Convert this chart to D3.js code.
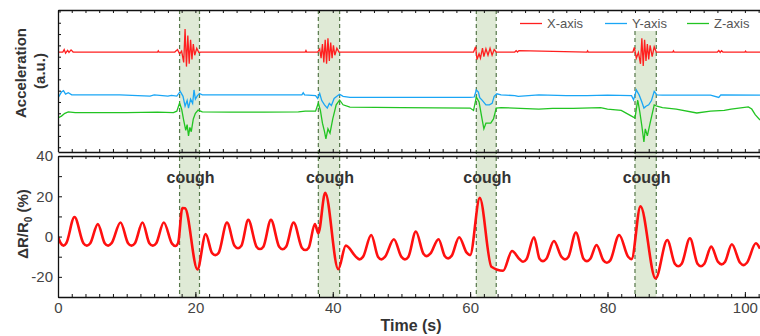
<!DOCTYPE html>
<html>
<head>
<meta charset="utf-8">
<script src="https://cdn.jsdelivr.net/npm/d3@7"></script>
<style>
  body { margin: 0; background: #fff; }
  svg { display: block; font-family: "Liberation Sans", Arial, sans-serif; }
</style>
</head>
<body>
<svg id="chart" width="760" height="336"></svg>
<script>
// cough windows (s)
const coughStart = [17.7, 37.9, 60.9, 84.0];
const coughEnd   = [20.6, 41.0, 63.8, 87.1];

// resistance signal ΔR/R0 (%)
const respT = [0, 0.4, 0.8, 1.2, 2.4, 3.7, 4.2, 4.7, 5.8, 6.8, 7.3, 7.8, 9.1, 10.2, 10.7, 11.2, 12.3, 13.3, 13.8, 14.3,
  15.4, 16.6, 17.1, 17.5, 18.1, 18.5, 20.3, 21.5, 22.4, 22.9, 23.4, 24.6, 25.7, 26.2, 26.7, 27.7, 28.9, 29.4, 29.9,
  31.0, 32.2, 32.7, 33.2, 34.3, 35.5, 36.0, 36.5, 37.4, 37.9, 38.9, 40.8, 41.9, 43.4, 43.9, 44.4, 45.6, 46.6, 47.1, 47.6,
  48.9, 50.0, 50.5, 51.0, 52.1, 53.2, 53.7, 54.2, 55.4, 56.3, 56.8, 57.3, 58.4, 59.5, 60.0, 61.4, 63.1, 64.8, 66.1,
  67.2, 67.7, 68.2, 69.3, 70.1, 70.6, 71.1, 72.2, 73.3, 73.8, 74.3, 75.4, 76.5, 77.0, 77.5, 78.4, 79.4, 79.9, 80.4,
  81.7, 83.0, 83.5, 84.8, 87.0, 88.7, 89.8, 90.3, 90.8, 92.0, 93.1, 93.6, 94.1, 95.1, 96.1, 96.6, 97.1,
  98.1, 99.3, 99.8, 100.3, 101.6, 102.2];
const respV = [0, -3.3, -4.5, -3.3, 9.7, -3.3, -4.5, -3.3, 6.2, -3.3, -4.5, -3.3, 7, -3.3, -4.5, -3.3, 7, -3.3, -4.5, -3.3,
  7, -3.5, -4.7, -3.0, 14.2, 14, -16.3, 1.2, -8.0, -9.2, -8.0, 7, -4.6, -5.8, -4.6, 8.3, -5.0, -6.2, -5.0,
  8.3, -5.1, -6.3, -5.1, 7, -5.5, -6.7, -5.5, 6.2, 1.7, 21.7, -16.2, -4.5, -10.1, -11.3, -10.1, 0.8, -10.1, -11.3, -10.1,
  -1.3, -10.1, -11.3, -10.1, 2.5, -8.5, -9.7, -8.5, -1.3, -9.6, -10.8, -9.6, -0.3, -8.0, -9.2, 19.2, -15, -17, -7.2,
  -11.3, -12.5, -11.3, -0.3, -11.0, -12.2, -11.0, -2.2, -10.1, -11.3, -10.1, 2, -11.0, -12.2, -11.0, -4.2, -11.8, -13, -11.8,
  0.8, -10.0, -11.2, 15, -20.8, -1.7, -13.5, -14.7, -13.5, -0.8, -13.5, -14.7, -13.5, -5, -12.6, -13.8, -12.6,
  -3.8, -13.0, -14.2, -13.0, -3.3, -6];

// accelerometer (a.u.)
const accXT = [0, 0.7, 0.9, 1.1, 1.4, 1.6, 1.9, 2.2, 14.5, 14.6, 14.7, 17.0, 17.4, 17.7, 18.0, 18.3, 18.5, 18.7, 18.9, 19.1,
  19.3, 19.5, 19.7, 19.9, 20.2, 20.5, 20.8, 36.0, 36.1, 36.2, 37.8, 38.1, 38.3, 38.5, 38.7, 38.9, 39.1, 39.3, 39.5, 39.7,
  39.9, 40.1, 40.3, 40.6, 40.9, 60.5, 60.8, 61.0, 61.3, 61.5, 61.8, 62.0, 62.3, 62.6, 62.9, 63.2, 63.5, 63.8, 66.5, 66.7,
  66.9, 67.1, 77.0, 77.1, 77.2, 83.7, 83.9, 84.2, 84.5, 84.8, 85.0, 85.2, 85.4, 85.6, 85.8, 86.0, 86.2, 86.5, 86.8, 87.1,
  89.5, 89.6, 89.7, 96.0, 96.2, 96.4, 96.6, 96.8, 100.0, 100.1, 100.2, 102.2];
const accXV = [7.03, 7.03, 7.2, 6.95, 7.15, 7.0, 7.18, 7.03, 7.03, 7.12, 7.03, 7.03, 7.2, 6.9, 7.1, 6.3, 8.66, 6.0, 8.2, 6.2,
  7.9, 6.5, 7.6, 6.8, 7.3, 7.0, 7.03, 7.03, 7.13, 7.03, 7.03, 7.25, 6.6, 7.6, 6.3, 7.9, 6.2, 8.0, 6.4, 7.7,
  6.6, 7.5, 6.8, 7.3, 7.03, 7.03, 7.4, 6.5, 6.9, 6.6, 7.3, 6.7, 7.25, 6.8, 7.3, 6.8, 7.2, 7.03, 7.03, 7.13,
  7.03, 7.13, 7.03, 7.12, 7.03, 7.03, 7.35, 6.6, 7.0, 6.2, 8.0, 6.05, 7.9, 6.4, 7.6, 6.5, 7.5, 6.7, 7.4, 7.03,
  7.03, 7.12, 7.03, 7.03, 7.13, 7.0, 7.12, 7.03, 7.03, 7.1, 7.03, 7.03];

const accYT = [0, 0.5, 0.8, 1.1, 1.5, 2.0, 9, 13.4, 14.0, 16.0, 16.5, 17.3, 17.8, 18.2, 18.5, 18.8, 19.0, 19.3, 19.6, 19.8,
  20.0, 20.3, 20.6, 21, 30, 35.5, 35.7, 35.9, 37.5, 37.8, 38.1, 38.4, 38.8, 39.2, 39.5, 39.8, 40.2, 40.6, 41, 41.5,
  42.5, 50, 60, 60.6, 60.9, 61.2, 61.4, 61.8, 62.3, 62.8, 63.2, 63.5, 63.9, 64.5, 66.5, 67, 70, 74, 77, 80,
  83.5, 83.8, 84.2, 84.6, 85.0, 85.3, 85.6, 86.0, 86.4, 86.8, 87.2, 88, 95, 96.2, 96.5, 102.2];
const accYV = [3.78, 4.2, 4.3, 4.05, 4.15, 4.0, 4.0, 3.92, 4.0, 3.92, 3.97, 3.92, 4.25, 3.9, 3.2, 3.6, 3.07, 3.7, 3.4, 4.35,
  3.7, 3.95, 4.1, 4.0, 4.0, 4.0, 4.15, 4.0, 3.95, 3.75, 4.1, 3.6, 3.3, 3.07, 3.4, 3.25, 3.75, 3.9, 4.05, 3.9,
  3.82, 3.82, 3.82, 3.85, 4.35, 4.2, 3.8, 3.6, 3.3, 3.3, 3.4, 3.9, 4.08, 4.0, 3.95, 3.9, 4.0, 3.95, 3.95, 3.98,
  3.95, 3.64, 4.35, 4.0, 3.5, 3.07, 3.2, 3.3, 3.6, 4.25, 4.0, 3.99, 3.99, 3.82, 4.0, 3.99];

const accZT = [0, 0.5, 1.0, 1.5, 2.5, 10, 14.5, 16.8, 17.3, 17.7, 18.0, 18.3, 18.6, 18.8, 19.0, 19.2, 19.4, 19.7, 20.0, 20.4,
  21, 25, 30, 35, 36, 37.5, 37.9, 38.2, 38.5, 38.8, 39.0, 39.3, 39.6, 40.0, 40.5, 41.0, 41.5, 42.5, 50, 60,
  60.5, 60.9, 61.3, 61.7, 62.0, 62.3, 62.6, 63.0, 63.4, 63.8, 64.5, 70, 72, 75, 79, 80, 82, 83.5, 84.0, 84.4,
  84.7, 85.0, 85.3, 85.5, 85.8, 86.2, 86.8, 87.2, 88, 90, 93, 95, 97, 98, 100.5, 101, 101.5, 102.2];
const accZV = [2.37, 2.5, 2.7, 2.8, 2.75, 2.75, 2.78, 2.75, 2.85, 3.43, 3.0, 2.2, 1.5, 1.9, 1.1, 1.7, 1.4, 2.3, 2.7, 2.93,
  2.8, 2.78, 2.78, 2.8, 2.85, 2.85, 3.43, 2.9, 2.0, 1.4, 0.9, 1.6, 1.3, 2.3, 3.3, 3.64, 3.3, 3.14, 3.1, 3.07,
  2.9, 3.85, 3.5, 2.4, 1.6, 2.0, 2.0, 2.01, 2.3, 3.07, 3.1, 3.0, 3.05, 3.05, 3.1, 3.0, 2.9, 2.5, 2.37, 3.64,
  2.8, 1.8, 0.67, 1.6, 1.1, 2.0, 3.29, 3.2, 3.1, 3.0, 2.72, 2.85, 2.9, 3.0, 3.15, 3.0, 2.6, 2.23];

const legendNames = ['X-axis', 'Y-axis', 'Z-axis'];
const legendColors = ['#ff1f1f', '#1aa6f5', '#22c422'];

const svg = d3.select('#chart');
const left = 58, right = 760;
const topPanel = { y0: 10, y1: 152 };
const botPanel = { y0: 156, y1: 297 };

const x = d3.scaleLinear().domain([0, 102.2]).range([left, right]);
const yTop = d3.scaleLinear().domain([0, 10]).range([151.5, 10]);
const yBot = d3.scaleLinear().domain([-30, 40]).range([botPanel.y1, botPanel.y0]);

// clip paths
const defs = svg.append('defs');
defs.append('clipPath').attr('id', 'clipTop').append('rect')
  .attr('x', left).attr('y', topPanel.y0).attr('width', right - left).attr('height', topPanel.y1 - topPanel.y0);
defs.append('clipPath').attr('id', 'clipBot').append('rect')
  .attr('x', left).attr('y', botPanel.y0).attr('width', right - left).attr('height', botPanel.y1 - botPanel.y0);

// cough bands
coughStart.forEach((s, i) => {
  svg.append('rect')
    .attr('x', x(s)).attr('y', topPanel.y0)
    .attr('width', x(coughEnd[i]) - x(s)).attr('height', botPanel.y1 - topPanel.y0)
    .attr('fill', '#dfead6');
});

// legend background hides band top
svg.append('rect').attr('x', 512).attr('y', topPanel.y0 + 1).attr('width', 248).attr('height', 20).attr('fill', '#fff');

// dashed band edges
coughStart.forEach((s, i) => {
  [s, coughEnd[i]].forEach(t => {
    svg.append('line')
      .attr('x1', x(t)).attr('x2', x(t))
      .attr('y1', (i === 3 ? 31 : topPanel.y0)).attr('y2', botPanel.y1)
      .attr('stroke', '#56774a').attr('stroke-width', 1.2)
      .attr('stroke-dasharray', '4,3');
  });
});

// accelerometer traces
const accSeries = [[accXT, accXV], [accYT, accYV], [accZT, accZV]];
const lineTop = d3.line().x(d => x(d[0])).y(d => yTop(d[1]));
accSeries.forEach(([ts, vs], i) => {
  svg.append('path')
    .attr('clip-path', 'url(#clipTop)')
    .attr('d', lineTop(ts.map((t, j) => [t, vs[j]])))
    .attr('fill', 'none')
    .attr('stroke', legendColors[i])
    .attr('stroke-width', 1.3);
});

// resistance trace
const lineBot = d3.line().x(d => x(d[0])).y(d => yBot(d[1])).curve(d3.curveMonotoneX);
svg.append('path')
  .attr('clip-path', 'url(#clipBot)')
  .attr('d', lineBot(respT.map((t, j) => [t, respV[j]])))
  .attr('fill', 'none')
  .attr('stroke', '#ff1010')
  .attr('stroke-width', 2.6)
  .attr('stroke-linejoin', 'round');

// cough labels
coughStart.forEach((s, i) => {
  svg.append('text')
    .attr('x', (x(s) + x(coughEnd[i])) / 2 + 1)
    .attr('y', 183)
    .attr('text-anchor', 'middle')
    .attr('font-size', 16).attr('font-weight', 'bold')
    .attr('fill', '#333')
    .text('cough');
});

// axes
function styleAxis(g) {
  g.selectAll('.domain').attr('stroke', '#111').attr('stroke-width', 1.3);
  g.selectAll('.tick line').attr('stroke', '#111').attr('stroke-width', 1);
  g.selectAll('.tick text').attr('fill', '#444').attr('font-size', 15)
    .attr('font-family', '"Liberation Sans", Arial, sans-serif');
}
const minorX = d3.range(0, 103, 2);
const majorX = [0, 20, 40, 60, 80, 100];

// top panel frame
svg.append('g').attr('transform', `translate(0,${topPanel.y0})`)
  .call(d3.axisTop(x).tickValues(minorX).tickSize(-3).tickSizeOuter(0).tickFormat(''))
  .call(styleAxis);
svg.append('g').attr('transform', `translate(0,${topPanel.y1})`)
  .call(d3.axisBottom(x).tickValues(minorX).tickSize(-3).tickSizeOuter(0).tickFormat(''))
  .call(styleAxis);
svg.append('g').attr('transform', `translate(${left},0)`)
  .call(d3.axisLeft(yTop).tickValues(d3.range(0.3, 10, 0.8)).tickSize(-3).tickSizeOuter(0).tickFormat(''))
  .call(styleAxis);

// bottom panel frame
svg.append('g').attr('transform', `translate(0,${botPanel.y0})`)
  .call(d3.axisTop(x).tickValues(minorX).tickSize(-3).tickSizeOuter(0).tickFormat(''))
  .call(styleAxis);
svg.append('g').attr('transform', `translate(0,${botPanel.y1})`)
  .call(d3.axisBottom(x).tickValues(minorX).tickSize(-3).tickSizeOuter(0).tickFormat(''))
  .call(styleAxis);
svg.append('g').attr('transform', `translate(0,${botPanel.y1})`)
  .call(d3.axisBottom(x).tickValues(majorX).tickSize(-5).tickSizeOuter(0).tickPadding(5))
  .call(styleAxis)
  .call(g => g.select('.domain').remove());
svg.append('g').attr('transform', `translate(${left},0)`)
  .call(d3.axisLeft(yBot).tickValues([-30, -20, -10, 0, 10, 20, 30, 40]).tickSize(-4).tickSizeOuter(0)
    .tickPadding(5).tickFormat(d => d % 20 === 0 ? d : ''))
  .call(styleAxis);

// legend
legendNames.forEach((name, i) => {
  const lx = [520, 605, 687][i];
  svg.append('line').attr('x1', lx).attr('x2', lx + 22).attr('y1', 23.5).attr('y2', 23.5)
    .attr('stroke', legendColors[i]).attr('stroke-width', 1.3);
  svg.append('text').attr('x', lx + 27).attr('y', 28)
    .attr('font-size', 13).attr('fill', '#555').text(name);
});

// axis titles
svg.append('text').attr('transform', 'translate(26,73) rotate(-90)')
  .attr('text-anchor', 'middle').attr('font-size', 15).attr('font-weight', 'bold').attr('fill', '#333')
  .text('Acceleration');
svg.append('text').attr('transform', 'translate(45,71) rotate(-90)')
  .attr('text-anchor', 'middle').attr('font-size', 15).attr('font-weight', 'bold').attr('fill', '#333')
  .text('(a.u.)');
const yLab = svg.append('text').attr('transform', 'translate(28,224) rotate(-90)')
  .attr('text-anchor', 'middle').attr('font-size', 15).attr('font-weight', 'bold').attr('fill', '#333');
yLab.append('tspan').text('ΔR/R');
yLab.append('tspan').attr('font-size', 10).attr('dy', 4).text('0');
yLab.append('tspan').attr('dy', -4).text(' (%)');
svg.append('text').attr('x', 411).attr('y', 331)
  .attr('text-anchor', 'middle').attr('font-size', 16).attr('font-weight', 'bold').attr('fill', '#333')
  .text('Time (s)');
</script>
</body>
</html>
